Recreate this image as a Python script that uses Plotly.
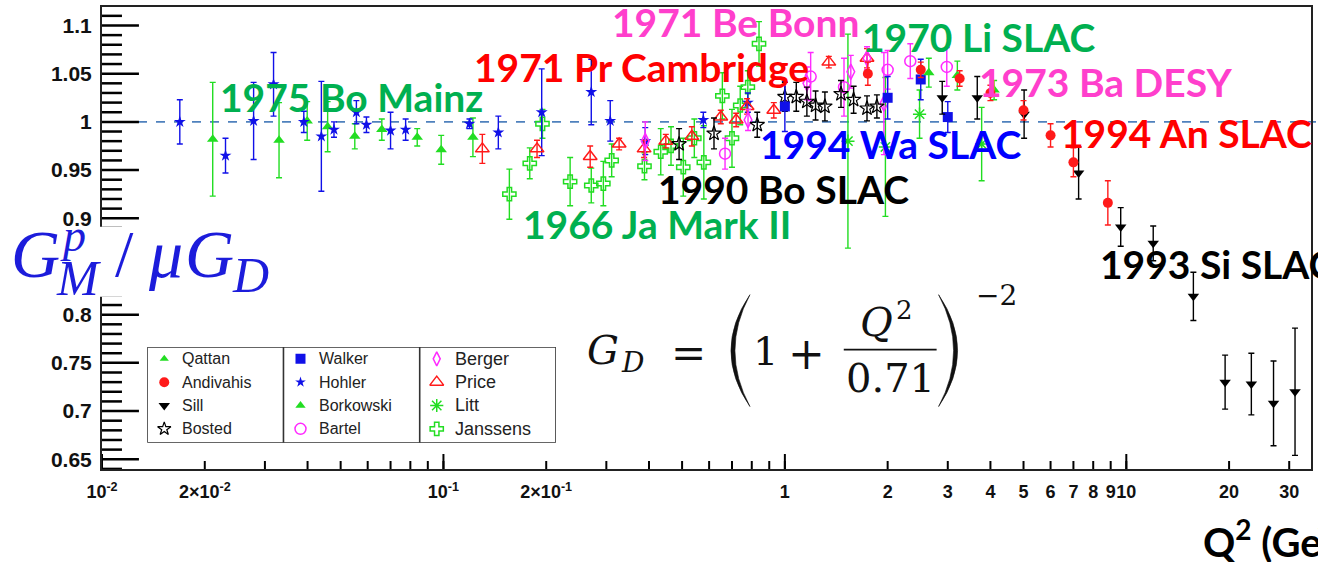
import plotly.graph_objects as go

# ------------------------------------------------------------------ data
qattan_q2 = [2.64, 3.20, 4.10]
qattan_gm = [1.051, 1.048, 1.033]
qattan_err = [0.015, 0.015, 0.010]

andivahis_q2 = [1.75, 2.50, 3.25, 4.00, 5.00, 6.00, 7.00, 8.83]
andivahis_gm = [1.050, 1.054, 1.045, 1.030, 1.012, 0.986, 0.958, 0.916]
andivahis_err = [0.012, 0.008, 0.008, 0.008, 0.010, 0.012, 0.015, 0.023]

sill_q2 = [2.89, 3.66, 5.02, 7.25, 9.63, 11.99, 15.72, 19.47, 23.24, 26.99, 31.20]
sill_gm = [1.025, 1.025, 1.008, 0.947, 0.891, 0.874, 0.819, 0.730, 0.728, 0.708, 0.720]
sill_err = [0.017, 0.022, 0.025, 0.027, 0.020, 0.018, 0.025, 0.028, 0.032, 0.044, 0.066]

bosted_q2 = [0.49, 0.62, 0.83, 1.00, 1.08, 1.16, 1.23, 1.31, 1.46, 1.59, 1.74, 1.86]
bosted_gm = [0.977, 0.988, 0.997, 1.026, 1.026, 1.021, 1.017, 1.016, 1.029, 1.023, 1.014, 1.016]
bosted_err = [0.016, 0.016, 0.013, 0.015, 0.015, 0.015, 0.015, 0.015, 0.014, 0.014, 0.013, 0.012]

walker_q2 = [1.00, 2.00, 2.50, 3.00]
walker_gm = [1.016, 1.025, 1.044, 1.005]
walker_err = [0.026, 0.022, 0.021, 0.016]

hohler_q2 = [0.0169, 0.0230, 0.0278, 0.0318, 0.0390, 0.0439, 0.0478, 0.0556, 0.0595,
             0.0700, 0.0775, 0.1192, 0.1448, 0.194, 0.271, 0.308, 0.390, 0.577, 0.779]
hohler_gm = [1.000, 0.965, 1.001, 1.039, 1.000, 0.985, 0.992, 1.010, 0.997,
             0.991, 0.992, 0.998, 0.989, 1.010, 1.031, 1.001, 0.980, 1.002, 1.020]
hohler_err = [0.023, 0.018, 0.040, 0.033, 0.011, 0.057, 0.008, 0.012, 0.008,
              0.019, 0.011, 0.005, 0.017, 0.045, 0.034, 0.021, 0.014, 0.008, 0.010]

borkowski_q2 = [0.0211, 0.0330, 0.0399, 0.0458, 0.0550, 0.0660, 0.0838, 0.0985, 0.122]
borkowski_gm = [0.982, 0.981, 1.001, 0.995, 0.985, 0.992, 0.984, 0.971, 0.984]
borkowski_err = [0.059, 0.039, 0.020, 0.026, 0.013, 0.011, 0.009, 0.015, 0.020]

bartel_q2 = [0.668, 1.19, 1.49, 2.00, 2.33, 2.98]
bartel_gm = [0.967, 1.047, 1.036, 1.054, 1.063, 1.057]
bartel_err = [0.016, 0.025, 0.030, 0.020, 0.018, 0.020]

berger_q2 = [0.39, 0.78, 1.16, 1.56, 1.74, 1.95]
berger_gm = [0.980, 1.002, 1.040, 1.052, 1.066, 1.019]
berger_err = [0.020, 0.011, 0.017, 0.017, 0.012, 0.053]

price_q2 = [0.130, 0.188, 0.269, 0.327, 0.387, 0.448, 0.534, 0.649, 0.720, 0.775, 0.928, 1.345, 1.74]
price_gm = [0.972, 0.972, 0.964, 0.977, 0.972, 0.980, 0.985, 1.005, 1.002, 1.016, 1.012, 1.062, 1.066]
price_err = [0.015, 0.009, 0.011, 0.006, 0.009, 0.007, 0.010, 0.007, 0.007, 0.008, 0.008, 0.006, 0.010]

litt_q2 = [1.53, 1.97, 2.48, 3.77]
litt_gm = [0.980, 0.974, 1.008, 0.977]
litt_err = [0.111, 0.072, 0.025, 0.038]

janssens_q2 = [0.156, 0.179, 0.195, 0.235, 0.271, 0.294, 0.311, 0.388, 0.433, 0.464,
               0.504, 0.543, 0.579, 0.656, 0.700, 0.740, 0.779, 0.840]
janssens_gm = [0.925, 0.957, 0.998, 0.938, 0.934, 0.936, 0.960, 0.954, 0.969, 0.975,
               0.953, 0.983, 0.958, 1.027, 0.983, 1.017, 1.036, 1.081]
janssens_err = [0.026, 0.016, 0.015, 0.025, 0.018, 0.023, 0.017, 0.014, 0.024, 0.020,
                0.030, 0.020, 0.038, 0.024, 0.030, 0.020, 0.017, 0.023]

# legend layout: columns of series names
legend_columns = [["Qattan", "Andivahis", "Sill", "Bosted"],
                  ["Walker", "Hohler", "Borkowski", "Bartel"],
                  ["Berger", "Price", "Litt", "Janssens"]]

x_tick_vals = [0.01, 0.02, 0.03, 0.04, 0.05, 0.06, 0.07, 0.08, 0.09,
               0.1, 0.2, 0.3, 0.4, 0.5, 0.6, 0.7, 0.8, 0.9,
               1, 2, 3, 4, 5, 6, 7, 8, 9, 10, 20, 30]
x_tick_text = ["10<sup>-2</sup>", "2×10<sup>-2</sup>", "", "", "", "", "", "", "",
               "10<sup>-1</sup>", "2×10<sup>-1</sup>", "", "", "", "", "", "", "",
               "1", "2", "3", "4", "5", "6", "7", "8", "9", "10", "20", "30"]
x_decades = [0.01, 0.1, 1, 10]
y_major_ticks = [0.65, 0.7, 0.75, 0.8, 0.85, 0.9, 0.95, 1.0, 1.05, 1.1]
y_minor_ticks = [round(0.64 + 0.01 * i, 2) for i in range(48)]

experiment_labels = ["1975 Bo Mainz", "1971 Pr Cambridge", "1971 Be Bonn", "1970 Li SLAC",
                     "1973 Ba DESY", "1994 An SLAC", "1994 Wa SLAC", "1990 Bo SLAC",
                     "1966 Ja Mark II", "1993 Si SLAC"]

series = [
    ("Janssens", janssens_q2, janssens_gm, janssens_err),
    ("Litt", litt_q2, litt_gm, litt_err),
    ("Borkowski", borkowski_q2, borkowski_gm, borkowski_err),
    ("Hohler", hohler_q2, hohler_gm, hohler_err),
    ("Price", price_q2, price_gm, price_err),
    ("Berger", berger_q2, berger_gm, berger_err),
    ("Bartel", bartel_q2, bartel_gm, bartel_err),
    ("Bosted", bosted_q2, bosted_gm, bosted_err),
    ("Walker", walker_q2, walker_gm, walker_err),
    ("Qattan", qattan_q2, qattan_gm, qattan_err),
    ("Sill", sill_q2, sill_gm, sill_err),
    ("Andivahis", andivahis_q2, andivahis_gm, andivahis_err),
]

# ------------------------------------------------------------------ styles
GREEN = "#22dd22"
RED = "#ff1a1a"
BLUE = "#1010e8"
MAG = "#ff2bff"
BLACK = "#000000"
styles = {
    "Qattan": dict(symbol="triangle-up", color=GREEN, size=10, lw=0, ls=8),
    "Andivahis": dict(symbol="circle", color=RED, size=10, lw=0, ls=10),
    "Sill": dict(symbol="triangle-down", color=BLACK, size=10, lw=0, ls=10),
    "Bosted": dict(symbol="star-open", color=BLACK, size=11, lw=1.2, ls=10),
    "Walker": dict(symbol="square", color=BLUE, size=10, lw=0, ls=10),
    "Hohler": dict(symbol="star", color=BLUE, size=9, lw=0, ls=8),
    "Borkowski": dict(symbol="triangle-up", color=GREEN, size=10, lw=0, ls=9),
    "Bartel": dict(symbol="circle-open", color=MAG, size=11, lw=1.5, ls=11),
    "Berger": dict(symbol="diamond-tall-open", color=MAG, size=11, lw=1.5, ls=10),
    "Price": dict(symbol="triangle-up-open", color=RED, size=12, lw=1.5, ls=12),
    "Litt": dict(symbol="asterisk-open", color=GREEN, size=11, lw=1.5, ls=11),
    "Janssens": dict(symbol="cross-open", color=GREEN, size=11, lw=1.5, ls=11),
}

W, H = 1318, 562
ML, MR, MT, MB = 102, 5, 7, 92.5
PW, PH = W - ML - MR, H - MT - MB
DECADE = 342.0
XMAX = -2 + PW / DECADE
Y0 = 1 - (H - MB - 122) / 965.0
Y1 = 1 + (122 - MT) / 965.0


def PX(x):
    return (x - ML) / PW


def PY(y):
    return (H - MB - y) / PH


fig = go.Figure()

for name, q, g, e in series:
    st = styles[name]
    fig.add_trace(go.Scatter(
        x=q, y=g, mode="markers", name=name, showlegend=False,
        marker=dict(symbol=st["symbol"], size=st["size"], color=st["color"],
                    line=dict(color=st["color"], width=st["lw"])),
        error_y=dict(type="data", array=e, visible=True, color=st["color"],
                     thickness=1.4, width=3),
        xaxis="x", yaxis="y"))

# legend (3 framed columns)
for c, col in enumerate(legend_columns):
    for r, name in enumerate(col):
        st = styles[name]
        fig.add_trace(go.Scatter(
            x=[c], y=[r], xaxis="x3", yaxis="y3", mode="markers", showlegend=False,
            marker=dict(symbol=st["symbol"], size=st["ls"], color=st["color"],
                        line=dict(color=st["color"], width=st["lw"]))))
        fig.add_annotation(x=c + 0.118, y=r, xref="x3", yref="y3", text=name,
                           showarrow=False, xanchor="left", yanchor="middle",
                           font=dict(family="Liberation Sans", size=16 if c < 2 else 18,
                                     color="#222"))

shapes = []
TICKC = "#000000"
# axis tick marks (inside), drawn on the axes' own scales
for v in y_minor_ticks:
    major = v in y_major_ticks
    shapes.append(dict(type="line", xref="paper", yref="y", x0=0, x1=(37 if major else 20) / PW,
                       y0=v, y1=v, line=dict(color=TICKC, width=2.5), layer="above"))
for v in x_tick_vals:
    shapes.append(dict(type="line", xref="x", yref="paper", x0=v, x1=v, y0=0, y1=8 / PH,
                       line=dict(color=TICKC, width=2), layer="above"))
for v in x_decades:
    shapes.append(dict(type="line", xref="x", yref="paper", x0=v, x1=v, y0=0, y1=15 / PH,
                       line=dict(color=TICKC, width=2), layer="above"))

shapes.append(dict(type="rect", xref="x3", yref="y3", x0=-0.125, x1=2.875, y0=-0.51, y1=3.6,
                   line=dict(color="#333", width=1.6)))
for xd in (0.875, 1.875):
    shapes.append(dict(type="line", xref="x3", yref="y3", x0=xd, x1=xd, y0=-0.51, y1=3.6,
                       line=dict(color="#333", width=1.6)))

# reference line at 1
shapes.append(dict(type="line", xref="paper", yref="y", x0=0.0, x1=PX(1318), y0=1, y1=1,
                   line=dict(color="#4f81bd", width=1.6, dash="dash"), layer="below"))

# white patch behind the y title
shapes.append(dict(type="rect", xref="paper", yref="paper", x0=PX(-5), x1=PX(150),
                   y0=PY(297), y1=PY(227), fillcolor="white", line=dict(width=0),
                   layer="above"))

# formula parentheses and fraction bar
def paren(xe, xo, xi):
    return (f"M {PX(xe)},{PY(295)} Q {PX(xo)},{PY(351)} {PX(xe)},{PY(407)} "
            f"Q {PX(xi)},{PY(351)} {PX(xe)},{PY(295)} Z")

shapes.append(dict(type="path", xref="paper", yref="paper", path=paren(751, 713, 721),
                   fillcolor="#111", line=dict(color="#111", width=0.6), layer="above"))
shapes.append(dict(type="path", xref="paper", yref="paper", path=paren(940, 978, 970),
                   fillcolor="#111", line=dict(color="#111", width=0.6), layer="above"))
shapes.append(dict(type="line", xref="paper", yref="paper", x0=PX(845), x1=PX(938),
                   y0=PY(350), y1=PY(350), line=dict(color="#111", width=1.6), layer="above"))

annotations = []


def ann(text, x, y, size, color, family, xanchor="center", bold=False):
    annotations.append(dict(text=text, x=PX(x), y=PY(y), xref="paper", yref="paper",
                            showarrow=False, xanchor=xanchor, yanchor="middle",
                            font=dict(family=family, size=size, color=color,
                                      weight="bold" if bold else "normal")))


LBL = "Lato"
label_style = [
    (352, 97.5, "#00b050", "center"),
    (642.5, 67.5, "#ff0000", "center"),
    (736.7, 22.5, "#ff3fcc", "center"),
    (980.5, 37.5, "#00b050", "center"),
    (1107, 82.5, "#ff3fcc", "center"),
    (1188, 133.3, "#ff0000", "center"),
    (891.7, 144, "#0000ff", "center"),
    (785, 189, "#000000", "center"),
    (658, 224, "#00b050", "center"),
    (1100, 264, "#000000", "left"),
]
for text, (lx, ly, lc, xa) in zip(experiment_labels, label_style):
    ann(text, lx, ly, 39, lc, LBL, xanchor=xa, bold=True)

# x axis title (cut by the right edge as in the reference)
ann("Q<sup>2</sup> (GeV<sup>2</sup>)", 1203, 540, 40, "#000", LBL, xanchor="left", bold=True)

# y axis title  G^p_M / mu G_D
TB = "#1c1cdb"
SER = "Liberation Serif"
ann("<i>G</i>", 9, 254, 68, TB, SER, xanchor="left")
ann("<i>p</i>", 58, 236, 46, TB, SER, xanchor="left")
ann("<i>M</i>", 54, 278, 50, TB, SER, xanchor="left")
ann("/", 113, 254, 66, TB, SER, xanchor="left")
ann("<i>μ</i>", 146, 254, 68, TB, SER, xanchor="left")
ann("<i>G</i>", 183, 254, 68, TB, SER, xanchor="left")
ann("<i>D</i>", 230, 275, 50, TB, SER, xanchor="left")

# formula G_D = (1 + Q^2/0.71)^-2
FS = "DejaVu Serif"
ann("<i>G</i>", 604, 350.5, 40, "#111", FS)
ann("<i>D</i>", 633, 363, 28, "#111", FS)
ann("=", 689, 354, 42, "#111", FS)
ann("1", 766.7, 351, 40, "#111", FS)
ann("+", 807.5, 354, 44, "#111", FS)
ann("<i>Q</i>", 878, 322.5, 40, "#111", FS)
ann("2", 906, 310.5, 26, "#111", FS)
ann("0.71", 891.7, 378.3, 40, "#111", FS)
ann("−2", 998, 296, 28, "#111", FS)

fig.update_layout(
    width=W, height=H, margin=dict(l=ML, r=MR, t=MT, b=MB, pad=0),
    plot_bgcolor="white", paper_bgcolor="white", showlegend=False,
    shapes=shapes, annotations=fig.layout.annotations + tuple(annotations),
    xaxis=dict(type="log", range=[-2, XMAX], tickmode="array", tickvals=x_tick_vals,
               ticktext=x_tick_text, ticks="", showline=True, linecolor="#222",
               linewidth=1.6, mirror=True, showgrid=False, zeroline=False,
               ticklabelstandoff=6, tickangle=0,
               tickfont=dict(family="Liberation Sans", size=18, color="#111", weight="bold")),
    yaxis=dict(range=[Y0, Y1], tickmode="array", tickvals=y_major_ticks, ticks="",
               showline=True, linewidth=2, linecolor="#222", mirror=True, showgrid=False,
               zeroline=False, ticklabelstandoff=4,
               tickfont=dict(family="Liberation Sans", size=21, color="#111", weight="bold")),
    xaxis3=dict(domain=[PX(147.3), PX(556.7)], range=[-0.125, 2.875], visible=False,
                anchor="y3", showgrid=False, zeroline=False),
    yaxis3=dict(domain=[PY(443.3), PY(347.3)], range=[3.6, -0.51], visible=False,
                anchor="x3", showgrid=False, zeroline=False),
)

fig.write_html("out.html")
